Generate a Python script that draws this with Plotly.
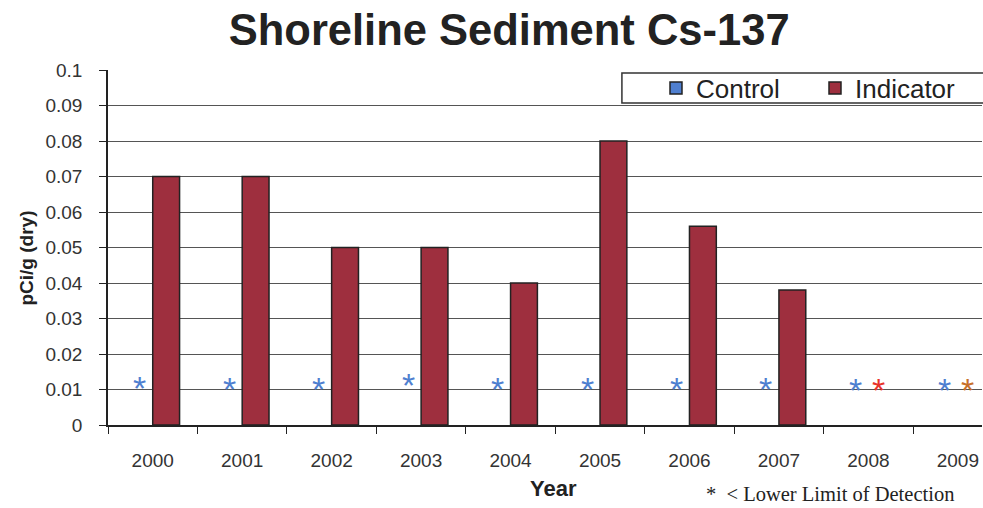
import plotly.graph_objects as go

years = ["2000", "2001", "2002", "2003", "2004", "2005", "2006", "2007", "2008", "2009"]
indicator = [0.07, 0.07, 0.05, 0.05, 0.04, 0.08, 0.056, 0.038, None, None]
control = [None] * 10
control_lld = [0.0121, 0.0118, 0.0117, 0.013, 0.0117, 0.0117, 0.0117, 0.0117, 0.0115, 0.0115]
indicator_lld = [None, None, None, None, None, None, None, None, 0.0115, 0.0115]
indicator_lld_colors = ["#E8332A"] * 9 + ["#C8702A"]

BLUE = "#4F7FD0"
MAROON = "#9E2F3E"

fig = go.Figure()
fig.add_trace(go.Bar(x=years, y=control, name="Control", offsetgroup="c",
                     marker=dict(color=BLUE, line=dict(color="#222", width=1.5))))
fig.add_trace(go.Bar(x=years, y=indicator, name="Indicator", offsetgroup="i",
                     marker=dict(color=MAROON, line=dict(color="#222", width=1.5))))

# "< LLD" asterisks, placed over the control / indicator bar slots
star_annotations = []
for i, v in enumerate(control_lld):
    if v is not None:
        star_annotations.append(dict(x=i, y=v, xref="x", yref="y", text="*", showarrow=False,
                                     xshift=-13, yshift=-6,
                                     font=dict(family="Liberation Sans", size=34, color=BLUE)))
for i, (v, c) in enumerate(zip(indicator_lld, indicator_lld_colors)):
    if v is not None:
        star_annotations.append(dict(x=i, y=v, xref="x", yref="y", text="*", showarrow=False,
                                     xshift=10, yshift=-6,
                                     font=dict(family="Liberation Sans", size=34, color=c)))

fig.update_layout(
    width=983, height=508,
    margin=dict(l=108, r=1, t=70, b=83, autoexpand=False),
    paper_bgcolor="white", plot_bgcolor="white",
    barmode="group", bargap=0.4, bargroupgap=0,
    font=dict(family="Liberation Sans", color="#333"),
    title=dict(text="<b>Shoreline Sediment Cs-137</b>", x=0.518, xanchor="center",
               y=0.942, yanchor="middle",
               font=dict(family="Liberation Sans", size=43.5, color="#222")),
    showlegend=True,
    legend=dict(orientation="h", x=0.627, xanchor="left", y=0.949, yanchor="middle",
                bgcolor="rgba(0,0,0,0)", borderwidth=0, entrywidth=114,
                font=dict(family="Liberation Sans", size=26, color="#222")),
    xaxis=dict(type="category", range=[-0.5, 9.27], showgrid=False, showline=True,
               linecolor="#222", linewidth=1.5,
               ticks="outside", tickson="boundaries", ticklen=7, tickcolor="#222",
               tickfont=dict(size=19, color="#333"), ticklabelstandoff=17),
    yaxis=dict(range=[0, 0.1], dtick=0.01, showgrid=True, gridcolor="#555", gridwidth=1,
               showline=True, linecolor="#222", linewidth=1.5, ticks="outside", ticklen=7,
               tickcolor="#222", tickfont=dict(size=19, color="#333"), ticklabelstandoff=13,
               tickformat="~g"),
    shapes=[dict(type="rect", xref="paper", yref="paper", x0=0.588, x1=1.05, y0=0.907, y1=0.9915,
                 fillcolor="white", line=dict(color="#333", width=1.5), layer="above")],
    annotations=star_annotations + [
        dict(text="<b>pCi/g (dry)</b>", xref="paper", yref="paper", x=-0.093, y=0.471,
             textangle=-90, showarrow=False, xanchor="center", yanchor="middle",
             font=dict(family="Liberation Sans", size=19, color="#222")),
        dict(text="<b>Year</b>", xref="paper", yref="paper", x=0.51, y=-0.178,
             showarrow=False, xanchor="center", yanchor="middle",
             font=dict(family="Liberation Sans", size=22, color="#222")),
        dict(text="*  < Lower Limit of Detection", xref="paper", yref="paper",
             x=0.826, y=-0.2305, xanchor="center", yanchor="bottom", showarrow=False,
             font=dict(family="Liberation Serif", size=20.5, color="#222")),
    ],
)

fig.write_html("out.html", config={"displayModeBar": False},
               post_script="document.body.style.margin='0';document.body.style.padding='0';")
